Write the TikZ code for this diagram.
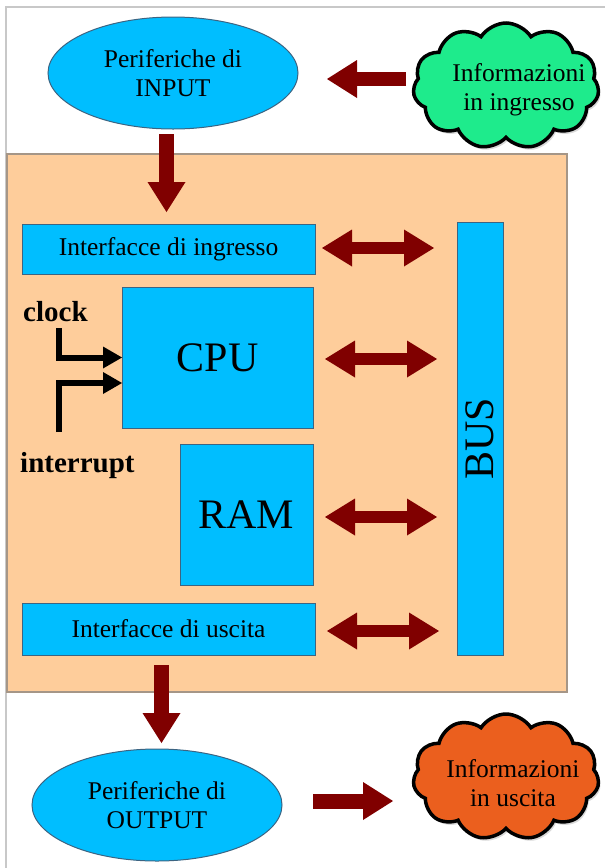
\documentclass[tikz,border=0pt]{standalone}
\usepackage{fontspec}
\setmainfont{Liberation Serif}
\usetikzlibrary{shapes.geometric,shapes.symbols,arrows.meta,shadows}
\definecolor{cyanbox}{RGB}{0,190,255}
\definecolor{peach}{RGB}{254,205,155}
\definecolor{darkred}{RGB}{128,0,0}
\definecolor{boxline}{RGB}{60,100,130}
\definecolor{cloudgreen}{RGB}{30,235,140}
\definecolor{cloudorange}{RGB}{235,95,30}
\definecolor{framegray}{RGB}{200,200,200}
\definecolor{coreline}{RGB}{165,150,135}
\tikzset{
  box/.style={draw=boxline, line width=1pt, fill=cyanbox, inner sep=0pt, outer sep=0pt,
    font=\fontsize{25.5}{29}\selectfont, align=center},
  bigtxt/.style={font=\fontsize{42}{48}\selectfont},
  periph/.style={ellipse, draw=boxline, line width=1pt, fill=cyanbox, inner sep=0pt,
    minimum width=250pt, minimum height=112pt, align=center, font=\fontsize{25.5}{29}\selectfont},
  cloudbox/.style={cloud, cloud puffs=11, cloud puff arc=115, aspect=1.45, draw=black,
    line width=3.5pt, minimum width=186pt, minimum height=126pt, inner sep=0pt,
    drop shadow={opacity=0.3, shadow xshift=2pt, shadow yshift=-3pt}},
  cloudtxt/.style={align=center, font=\fontsize{25.5}{29}\selectfont, inner sep=0pt},
  fat/.style={draw=darkred, line width=14pt, -{Triangle[length=30pt, width=38pt, line width=0pt]}},
  dfat/.style={draw=darkred, line width=12pt,
    {Triangle[length=30pt, width=37pt, line width=0pt]}-{Triangle[length=30pt, width=37pt, line width=0pt]}},
  sig/.style={draw=black, line width=6pt, -{Triangle[length=19pt, width=22pt, line width=0pt]}},
  lbl/.style={font=\fontsize{29}{33}\selectfont\bfseries, inner sep=0pt, anchor=base west},
}
\begin{document}
\begin{tikzpicture}[x=1pt, y=-1pt]
\useasboundingbox (0,0) rectangle (605,868);
% page frame
\coordinate (frameBL) at (6,868);
\coordinate (frameTR) at (605,7);
\draw[framegray, line width=1.5pt] (frameBL) |- (frameTR);

% computer block
\node[draw=coreline, line width=1.5pt, fill=peach, minimum width=560pt, minimum height=538pt,
      inner sep=0pt, outer sep=0pt] (core) at (287,423) {};

% peripherals
\node[periph] (inp) at (173,73) {Periferiche di\\INPUT};
\node[periph] (outp) at (157,805) {Periferiche di\\OUTPUT};

% clouds
\node[cloudbox, fill=cloudgreen] (gcloud) at (506,86) {};
\node[cloudtxt] (gtxt) at (519,90) {Informazioni\\in ingresso};
\node[cloudbox, fill=cloudorange] (ocloud) at (506,777) {};
\node[cloudtxt] (otxt) at (513,783) {Informazioni\\in uscita};

% inner boxes
\node[box, minimum width=293pt, minimum height=50pt] (iin) at (168.5,249) {Interfacce di ingresso};
\node[box, bigtxt, minimum width=191pt, minimum height=141pt] (cpu) at (217.5,357.5) {CPU};
\node[box, bigtxt, minimum width=133pt, minimum height=141pt] (ram) at (246.5,514.5) {RAM};
\node[box, minimum width=293pt, minimum height=52pt] (iout) at (168.5,629) {Interfacce di uscita};
\node[box, bigtxt, rotate=90, minimum width=433pt, minimum height=46pt] (bus) at (480,438.5) {BUS};

% clock / interrupt
\node[lbl] (clocklbl) at (23,321) {clock};
\node[lbl] (irqlbl) at (20,472) {interrupt};
\coordinate (clk) at (59,328);
\coordinate (irq) at (59,432);
\draw[sig] (clk) |- (cpu.west);
\draw[sig] (irq) |- ([yshift=-25.5pt]cpu.west);

% fat arrows (endpoints)
\coordinate (ainS) at (406,79);   \coordinate (ainE) at (327,79);
\coordinate (d1S) at (166.5,134); \coordinate (d1E) at (166.5,212);
\coordinate (d2S) at (161.5,665); \coordinate (d2E) at (161.5,743);
\coordinate (aoS) at (313,801);   \coordinate (aoE) at (393,801);
\coordinate (b1S) at (322,248);   \coordinate (b1E) at (434,248);
\coordinate (b2S) at (325,359);   \coordinate (b2E) at (437,359);
\coordinate (b3S) at (325,517);   \coordinate (b3E) at (437,517);
\coordinate (b4S) at (327,631);   \coordinate (b4E) at (439,631);

\draw[fat] (ainS) -- (ainE);
\draw[fat, line width=15pt] (d1S) -- (d1E);
\draw[fat, line width=15pt] (d2S) -- (d2E);
\draw[fat, line width=15pt] (aoS) -- (aoE);
\draw[dfat] (b1S) -- (b1E);
\draw[dfat] (b2S) -- (b2E);
\draw[dfat] (b3S) -- (b3E);
\draw[dfat] (b4S) -- (b4E);
\end{tikzpicture}
\end{document}
